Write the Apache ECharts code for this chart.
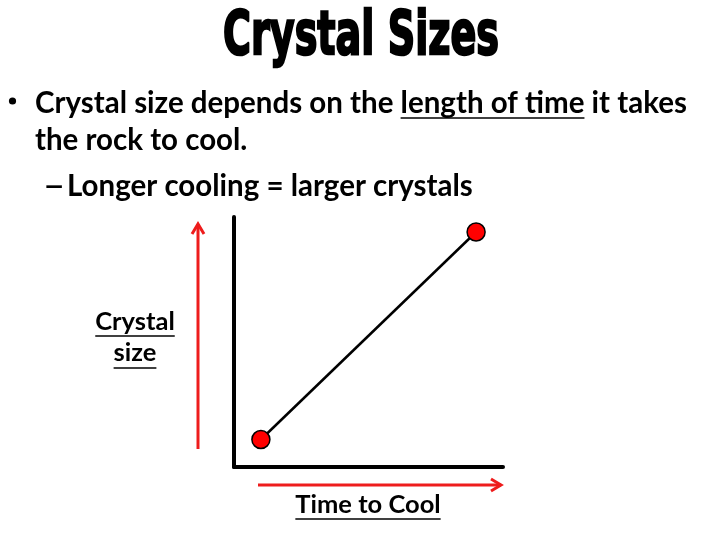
<!DOCTYPE html>
<html><head><meta charset="utf-8">
<script src="https://cdn.jsdelivr.net/npm/echarts@6/dist/echarts.min.js"></script>
<style>html,body{margin:0;padding:0;background:#fff}#c{width:720px;height:540px}</style>
</head><body><div id="c"></div>
<script>
const titleText = 'Crystal Sizes';
const bullet1a = 'Crystal size depends on the ';
const bullet1u = 'length of time';
const bullet1b = ' it takes';
const bullet1c = 'the rock to cool.';
const sub1 = 'Longer cooling = larger crystals';
const yLabelLines = ['Crystal', 'size'];
const xLabel = 'Time to Cool';
const timeVals = [1, 9];
const sizeVals = [1.1, 9.4];

const chart = echarts.init(document.getElementById('c'));
const bodyFont = 'Lato';
const fs = 29.5;
const ctx = document.createElement('canvas').getContext('2d');
function tw(t, size, fam) { ctx.font = 'bold ' + size + 'px ' + fam; return ctx.measureText(t).width; }

const RED = '#ee1c1c';
const els = [];
function txt(x, y, t, size, fam, align, sx) {
  els.push({type:'text', x: x, y: y, scaleX: sx || 1, style:{text:t, font:'bold '+size+'px '+fam, fill:'#000', textAlign: align||'left', textVerticalAlign:'middle'}});
}
function line(x1,y1,x2,y2,color,w){ els.push({type:'line', shape:{x1,y1,x2,y2}, style:{stroke:color, lineWidth:w}}); }
function poly(pts,color,w){ els.push({type:'polyline', shape:{points:pts}, style:{stroke:color, lineWidth:w, fill:null}}); }

// title (condensed heavy look)
const tFam = '"DejaVu Sans"';
const tSize = 60;
const tScale = 276 / tw(titleText, tSize, tFam);
els.push({type:'text', x:361, y:38, scaleX: tScale, style:{text:titleText, font:'bold '+tSize+'px '+tFam, fill:'#000', stroke:'#000', lineWidth:2.5, textAlign:'center', textVerticalAlign:'middle'}});
// bullet
els.push({type:'circle', shape:{cx:12.5, cy:101, r:3.6}, style:{fill:'#000'}});
let x0 = 35;
txt(x0, 103, bullet1a, fs, bodyFont);
let ux = x0 + tw(bullet1a, fs, bodyFont);
txt(ux, 103, bullet1u, fs, bodyFont);
let uw = tw(bullet1u, fs, bodyFont);
line(ux, 118, ux+uw, 118, '#000', 1.5);
txt(ux+uw, 103, bullet1b, fs, bodyFont);
txt(x0, 140, bullet1c, fs, bodyFont);
txt(43, 186, '–', fs, bodyFont, 'left', 1.3);
txt(67, 186, sub1, fs, bodyFont);
// y label
const lfs = 25.5;
[[yLabelLines[0], 322, 336], [yLabelLines[1], 353, 368]].forEach(([t, y, uy]) => {
  txt(135, y, t, lfs, bodyFont, 'center');
  const w = tw(t, lfs, bodyFont);
  line(135 - w/2, uy, 135 + w/2, uy, '#000', 1.5);
});
// x label
txt(368, 505, xLabel, lfs, bodyFont, 'center');
const xw = tw(xLabel, lfs, bodyFont);
line(368 - xw/2, 519, 368 + xw/2, 519, '#000', 1.5);
// red arrows
line(198, 449, 198, 224, RED, 3);
poly([[192,234],[198,224],[204,234]], RED, 3);
line(258, 485, 501, 485, RED, 3);
poly([[491,479],[501,485],[491,491]], RED, 3);

chart.setOption({
  animation: false,
  grid: {left: 234, top: 217, width: 269, height: 250},
  xAxis: {type:'value', min:0, max:10, axisLine:{show:true, lineStyle:{color:'#000', width:4}}, axisTick:{show:false}, axisLabel:{show:false}, splitLine:{show:false}},
  yAxis: {type:'value', min:0, max:10, axisLine:{show:true, lineStyle:{color:'#000', width:4}}, axisTick:{show:false}, axisLabel:{show:false}, splitLine:{show:false}},
  series: [{type:'line', data: timeVals.map((t,i)=>[t, sizeVals[i]]), symbol:'circle', symbolSize:18,
    lineStyle:{color:'#000', width:2.5}, itemStyle:{color:'#f00', borderColor:'#000', borderWidth:1.5}}],
  graphic: {elements: els}
});
</script></body></html>
